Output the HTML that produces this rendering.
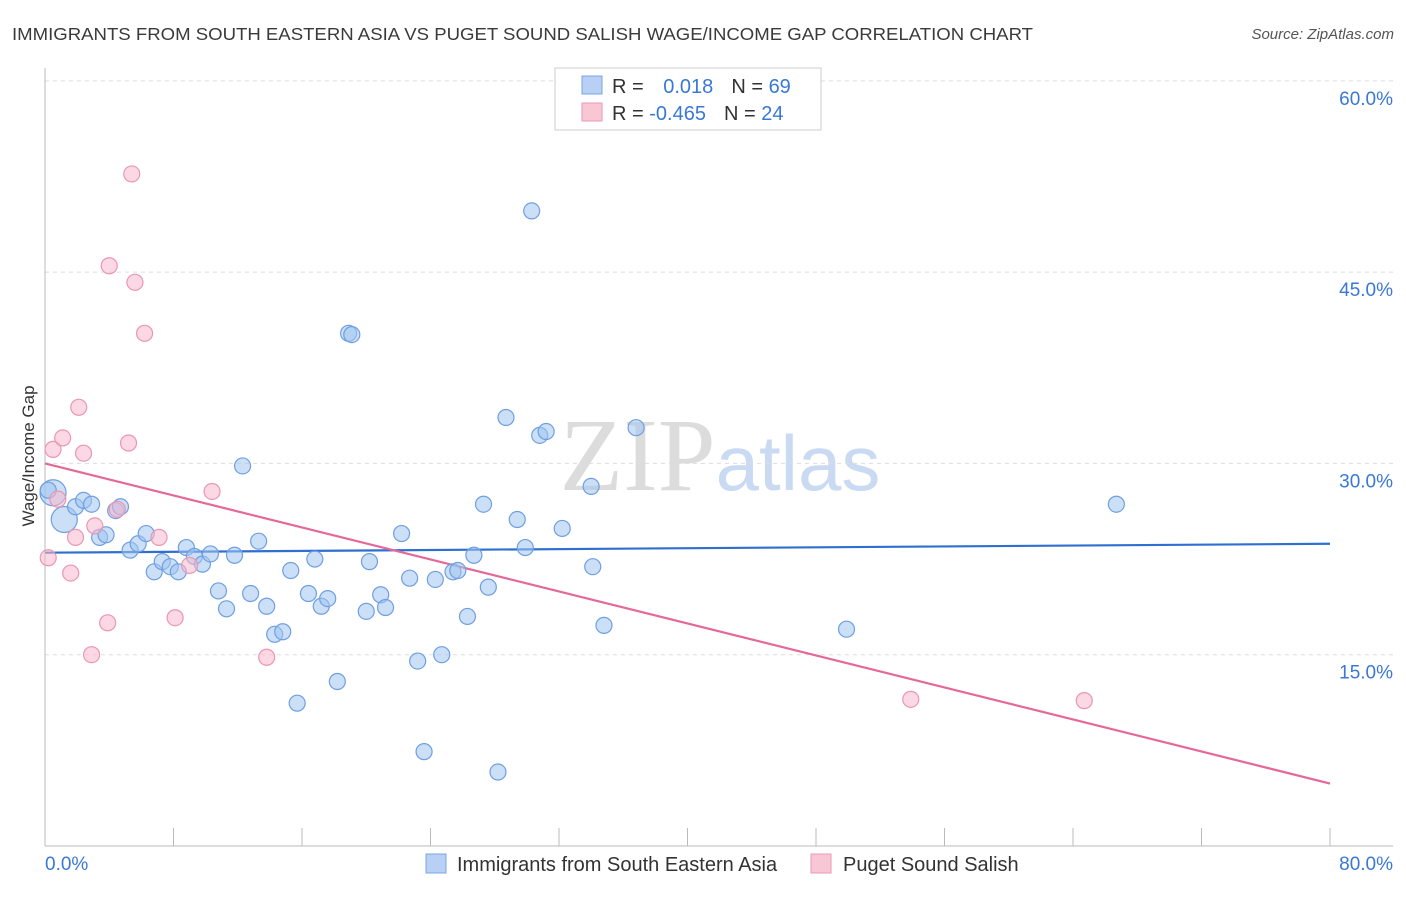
<!DOCTYPE html>
<html><head><meta charset="utf-8"><style>
body{margin:0;background:#fff;font-family:"Liberation Sans",sans-serif;}
</style></head><body>
<svg id="chart" width="1406" height="892" xmlns="http://www.w3.org/2000/svg" style="font-family:'Liberation Sans',sans-serif">
<text x="12" y="40" font-size="17.5" fill="#3a3a3a" textLength="1021" lengthAdjust="spacingAndGlyphs">IMMIGRANTS FROM SOUTH EASTERN ASIA VS PUGET SOUND SALISH WAGE/INCOME GAP CORRELATION CHART</text>
<text x="1394" y="39" font-size="15" fill="#555" text-anchor="end" font-style="italic">Source: ZipAtlas.com</text>
<text x="720" y="490" font-size="104" text-anchor="middle" fill="#dcdcdc" font-family="Liberation Serif">ZIP<tspan fill="#c9daf2" font-family="Liberation Sans" font-size="78">atlas</tspan></text>
<g id="grid"></g>
<g id="axes"></g>
<g id="trend"></g>
<g id="pts"></g>
<text transform="translate(34,456) rotate(-90)" font-size="17" fill="#333" text-anchor="middle">Wage/Income Gap</text>
<g>
<rect x="555" y="68" width="266" height="62" fill="#fff" stroke="#ccc"/>
<rect x="582" y="76" width="20" height="18" fill="#b7d0f3" stroke="#7aa6e6"/>
<rect x="582" y="103" width="20" height="18" fill="#f9c6d6" stroke="#ea9ab3"/>
<text x="612" y="93" font-size="20" fill="#333">R = <tspan fill="#3a78d6" dx="14">0.018</tspan><tspan dx="18" fill="#333">N = </tspan><tspan fill="#3a78d6">69</tspan></text>
<text x="612" y="120" font-size="20" fill="#333">R = <tspan fill="#3a78d6">-0.465</tspan><tspan dx="18" fill="#333">N = </tspan><tspan fill="#3a78d6">24</tspan></text>
</g>
<g>
<rect x="426" y="854" width="20" height="19" fill="#b7d0f3" stroke="#7aa6e6"/>
<text x="457" y="871" font-size="20" fill="#333">Immigrants from South Eastern Asia</text>
<rect x="811" y="854" width="20" height="19" fill="#f9c6d6" stroke="#ea9ab3"/>
<text x="843" y="871" font-size="20" fill="#333">Puget Sound Salish</text>
</g>
</svg>
<script>
const blueX=[0.5,1.2,1.9,2.4,2.9,3.4,3.8,4.4,4.7,5.3,5.8,6.3,6.8,7.3,7.8,8.3,8.8,9.3,9.8,10.3,10.8,11.3,11.8,12.3,12.8,13.3,13.8,14.3,14.8,15.3,15.7,16.4,16.8,17.2,17.6,18.2,18.9,19.1,20.0,20.2,20.9,21.2,22.2,22.7,23.2,23.6,24.3,24.7,25.4,25.7,26.3,26.7,27.3,27.6,28.2,28.7,29.4,29.9,30.3,30.8,31.2,32.2,34.0,34.1,34.8,36.8,49.9,66.7,0.2];
const blueY=[27.7,25.6,26.6,27.1,26.8,24.2,24.4,26.3,26.6,23.2,23.7,24.5,21.5,22.3,21.9,21.5,23.4,22.7,22.1,22.9,20.0,18.6,22.8,29.8,19.8,23.9,18.8,16.6,16.8,21.6,11.2,19.8,22.5,18.8,19.4,12.9,40.2,40.1,18.4,22.3,19.7,18.7,24.5,21.0,14.5,7.4,20.9,15.0,21.5,21.6,18.0,22.8,26.8,20.3,5.8,33.6,25.6,23.4,49.8,32.2,32.5,24.9,28.2,21.9,17.3,32.8,17.0,26.8,27.9];
const pinkX=[0.2,0.5,0.8,1.1,1.6,1.9,2.1,2.4,2.9,3.1,3.9,4.0,4.5,5.2,5.4,5.6,6.2,7.1,8.1,9.0,10.4,13.8,53.9,64.7];
const pinkY=[22.6,31.1,27.2,32.0,21.4,24.2,34.4,30.8,15.0,25.1,17.5,45.5,26.4,31.6,52.7,44.2,40.2,24.2,17.9,22.0,27.8,14.8,11.5,11.4];
const blueTrend=[23.0,23.7];
const pinkTrend=[30.0,4.9];
const yTicks=[15,30,45,60];
const NS="http://www.w3.org/2000/svg";
const sx=v=>45+v*16.0625, sy=v=>846-v*12.753;
function mk(tag,attrs,parent){const e=document.createElementNS(NS,tag);for(const k in attrs)e.setAttribute(k,attrs[k]);parent.appendChild(e);return e;}
const grid=document.getElementById('grid'),axes=document.getElementById('axes'),tr=document.getElementById('trend'),pts=document.getElementById('pts');
yTicks.forEach(v=>{
 const l=mk('line',{x1:45,x2:1393,y1:sy(v),y2:sy(v),stroke:'#ddd','stroke-dasharray':'4,4'},grid);
 
 
 const t=mk('text',{x:1393,y:sy(v)+24,'font-size':19,fill:'#3a78d6','text-anchor':'end'},axes);
 t.textContent=v.toFixed(1)+'%';
 
 
});
const ax=mk('line',{x1:45,x2:45,y1:68,y2:846,stroke:'#bbb'},axes);


const bx=mk('line',{x1:45,x2:1393,y1:846,y2:846,stroke:'#bbb'},axes);


for(let v=0;v<=80;v+=8){const tk=mk('line',{x1:sx(v),x2:sx(v),y1:828,y2:846,stroke:'#bbb'},axes);
 
 }
[[0,'start',45],[80,'end',1393]].forEach(([v,a,x])=>{const t=mk('text',{x:x,y:870,'font-size':19,fill:'#3a78d6','text-anchor':a},axes);t.textContent=v.toFixed(1)+'%';
 
 });
const bl=mk('line',{x1:sx(0),x2:sx(80),y1:sy(blueTrend[0]),y2:sy(blueTrend[1]),stroke:'#2f6fd0','stroke-width':2.2},tr);


const pl=mk('line',{x1:sx(0),x2:sx(80),y1:sy(pinkTrend[0]),y2:sy(pinkTrend[1]),stroke:'#e5689a','stroke-width':2.2},tr);


blueX.forEach((x,i)=>{const c=mk('circle',{cx:sx(x),cy:sy(blueY[i]),r:(i<2?13:8),fill:'rgba(160,196,240,0.55)',stroke:'#6f9fe2','stroke-width':1.2},pts);
 
 });
pinkX.forEach((x,i)=>{const c=mk('circle',{cx:sx(x),cy:sy(pinkY[i]),r:8,fill:'rgba(247,184,204,0.55)',stroke:'#ea96b2','stroke-width':1.2},pts);
 
 });
</script>
</body></html>
